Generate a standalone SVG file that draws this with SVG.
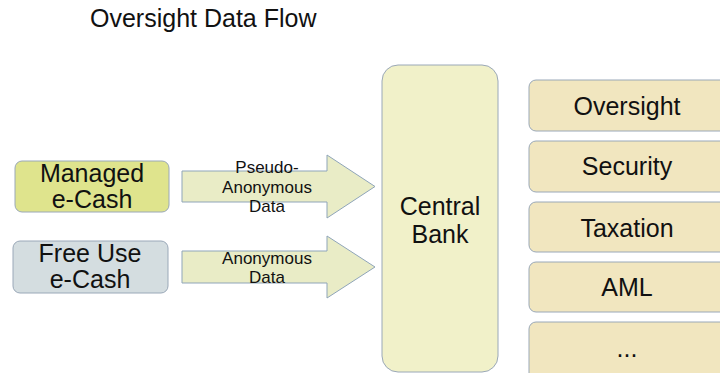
<svg xmlns="http://www.w3.org/2000/svg" width="720" height="373" viewBox="0 0 720 373">
<style>
text{font-family:"Liberation Sans",Arial,sans-serif;fill:#111;text-anchor:middle}
.box{stroke:#9aa8b8;stroke-width:1}
.arrow{fill:#e9ecc6;stroke:#8fa5b9;stroke-width:1}
.lbl{font-size:17px}
.big{font-size:25px}
.side{fill:#f1e6bf}
</style>
<rect width="720" height="373" fill="#fff"/>
<text x="90" y="27" style="text-anchor:start;font-size:25px">Oversight Data Flow</text>
<g id="managed">
<rect class="box" x="15" y="161" width="154" height="51" rx="7" fill="#dfe48d"/>
<text class="big" x="92" y="182">Managed</text>
<text class="big" x="92" y="208">e-Cash</text>
</g>
<g id="freeuse">
<rect class="box" x="13" y="241" width="155" height="52" rx="7" fill="#d4dde0"/>
<text class="big" x="90" y="262">Free Use</text>
<text class="big" x="90" y="288">e-Cash</text>
</g>
<g id="connectors">
<g id="arrow1">
<path class="arrow" d="M182,171 H327 V155 L375,186.5 L327,218 V202 H182 Z"/>
<text class="lbl" x="267" y="173">Pseudo-</text>
<text class="lbl" x="267" y="193">Anonymous</text>
<text class="lbl" x="267" y="212">Data</text>
</g>
<g id="arrow2">
<path class="arrow" d="M182,251 H327 V236 L375,267 L327,298 V283 H182 Z"/>
<text class="lbl" x="267" y="264">Anonymous</text>
<text class="lbl" x="267" y="283">Data</text>
</g>
</g>
<g id="centralbank">
<rect class="box" x="382" y="65" width="116" height="307" rx="16" fill="#f1f1c9"/>
<text class="big" x="440" y="215">Central</text>
<text class="big" x="440" y="243">Bank</text>
</g>
<g id="oversight">
<rect class="box side" x="529" y="80" width="200" height="51" rx="7"/>
<text class="big" x="627" y="115">Oversight</text>
</g>
<g id="security">
<rect class="box side" x="529" y="141" width="200" height="51" rx="7"/>
<text class="big" x="627" y="175">Security</text>
</g>
<g id="taxation">
<rect class="box side" x="529" y="202" width="200" height="50" rx="7"/>
<text class="big" x="627" y="237">Taxation</text>
</g>
<g id="aml">
<rect class="box side" x="529" y="262" width="200" height="50" rx="7"/>
<text class="big" x="627" y="296">AML</text>
</g>
<g id="more">
<rect class="box side" x="529" y="322" width="200" height="60" rx="7"/>
<text class="big" x="627" y="357">...</text>
</g>
</svg>
